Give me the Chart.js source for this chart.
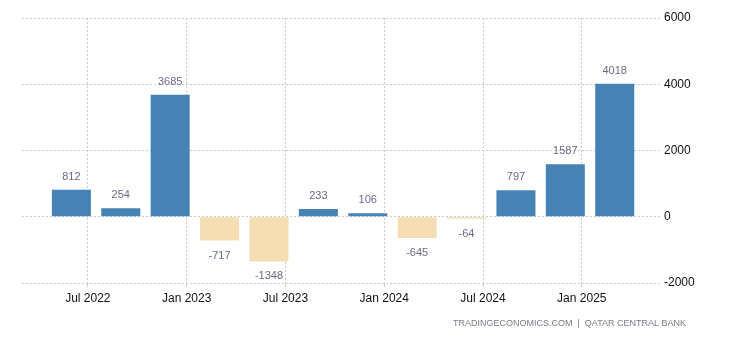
<!DOCTYPE html>
<html>
<head>
<meta charset="utf-8">
<script src="https://cdn.jsdelivr.net/npm/chart.js@4/dist/chart.umd.min.js"></script>
<style>
    html, body { margin: 0; padding: 0; background: #fff; }
    #wrap { width: 730px; height: 340px; }
</style>
</head>
<body>
<div id="wrap"><canvas id="balanceChart" width="730" height="340"></canvas></div>
<script>
// =========================
// DATA
// =========================

// bar positions, in months counted from Jan 2022
const barMonths = [5, 8, 11, 14, 17, 20, 23, 26, 29, 32, 35, 38];
const barValues = [812, 254, 3685, -717, -1348, 233, 106, -645, -64, 797, 1587, 4018];

const tickMonths = [6, 12, 18, 24, 30, 36];
const tickLabels = ["Jul 2022", "Jan 2023", "Jul 2023", "Jan 2024", "Jul 2024", "Jan 2025"];

const yTicks = [-2000, 0, 2000, 4000, 6000];
const sourceText = "TRADINGECONOMICS.COM  |  QATAR CENTRAL BANK";

// =========================
// PLUGINS
// =========================

const valueLabels = {
    id: "valueLabels",
    afterDatasetsDraw(chart) {
        const ctx = chart.ctx;
        const meta = chart.getDatasetMeta(0);
        ctx.save();
        ctx.font = "11px 'Liberation Sans', Arial, sans-serif";
        ctx.fillStyle = "#6b6b85";
        ctx.textAlign = "center";
        ctx.textBaseline = "middle";
        meta.data.forEach((bar, i) => {
            const v = barValues[i];
            const y = v >= 0 ? bar.y - 13 : bar.y + 15;
            ctx.fillText(String(v), bar.x, y);
        });
        ctx.restore();
    },
};

const sourceNote = {
    id: "sourceNote",
    afterDraw(chart) {
        const ctx = chart.ctx;
        ctx.save();
        ctx.font = "9px 'Liberation Sans', Arial, sans-serif";
        ctx.fillStyle = "#7a7a8a";
        ctx.textAlign = "right";
        ctx.textBaseline = "middle";
        ctx.fillText(sourceText, 686, 324);
        ctx.restore();
    },
};

// =========================
// CHART
// =========================

const gridStyle = {
    color: "#cccccc",
    lineWidth: 1,
};

new Chart(document.getElementById("balanceChart"), {
    type: "bar",
    data: {
        datasets: [
            {
                data: barMonths.map((m, i) => ({ x: m, y: barValues[i] })),
                backgroundColor: barValues.map((v) => (v >= 0 ? "#4682b4" : "#f5deb3")),
                borderWidth: 0,
                barPercentage: 0.79,
                categoryPercentage: 1,
            },
        ],
    },
    options: {
        responsive: false,
        animation: false,
        layout: { padding: { top: 18, left: 22, right: 0, bottom: 0 } },
        plugins: {
            legend: { display: false },
            tooltip: { enabled: false },
        },
        scales: {
            x: {
                type: "linear",
                offset: false,
                min: 2,
                max: 40.75,
                afterBuildTicks(scale) {
                    scale.ticks = tickMonths.map((m) => ({ value: m }));
                },
                afterFit(scale) {
                    scale.height = 57;
                },
                ticks: {
                    autoSkip: false,
                    maxRotation: 0,
                    padding: 4,
                    color: "#111",
                    font: { family: "'Liberation Sans', Arial, sans-serif", size: 12 },
                    callback: (value) => tickLabels[tickMonths.indexOf(value)] || "",
                },
                grid: { ...gridStyle, offset: false, drawTicks: true, tickLength: 4, tickColor: "#cccccc" },
                border: { display: false, dash: [2, 2] },
            },
            y: {
                position: "right",
                min: -2000,
                max: 6000,
                afterBuildTicks(scale) {
                    scale.ticks = yTicks.map((v) => ({ value: v }));
                },
                afterFit(scale) {
                    scale.width = 70;
                },
                ticks: {
                    padding: 4,
                    color: "#111",
                    font: { family: "'Liberation Sans', Arial, sans-serif", size: 12 },
                    callback: (value) => String(value),
                },
                grid: { ...gridStyle, drawTicks: false },
                border: { display: false, dash: [2, 2] },
            },
        },
    },
    plugins: [valueLabels, sourceNote],
});
</script>
</body>
</html>
